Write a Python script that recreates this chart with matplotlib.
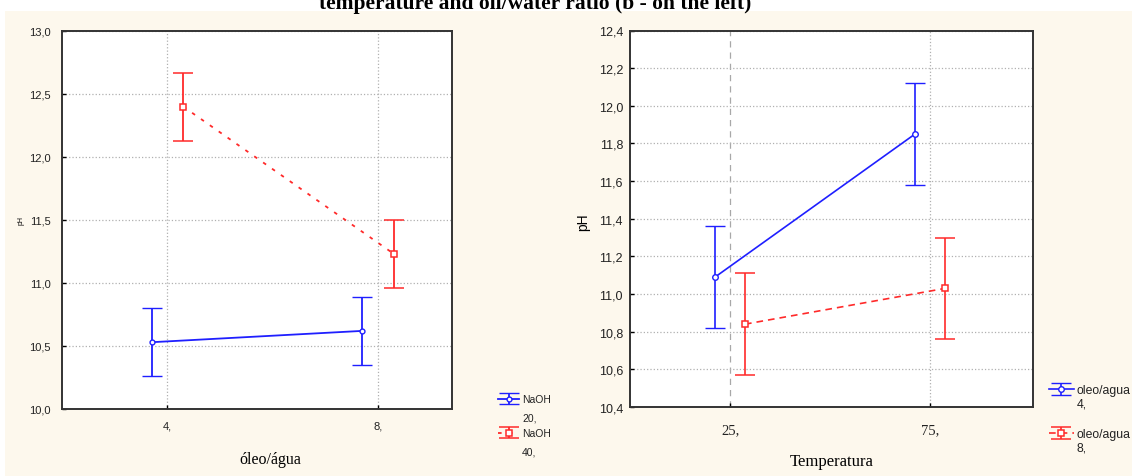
import numpy as np
import matplotlib
matplotlib.use("Agg")
import matplotlib.pyplot as plt
from matplotlib.patches import Rectangle

# left panel: pH vs oleo/agua, grouped by NaOH
oleo_ticks = ["4,", "8,"]
naoh_levels = ["20,", "40,"]
ph_naoh20 = [10.53, 10.62]
ph_naoh40 = [12.40, 11.23]
ci_naoh20 = [0.27, 0.27]
ci_naoh40 = [0.27, 0.27]
left_yticks = [10.0, 10.5, 11.0, 11.5, 12.0, 12.5, 13.0]

# right panel: pH vs Temperatura, grouped by oleo/agua
temp_ticks = ["25,", "75,"]
oleo_levels = ["4,", "8,"]
ph_oleo4 = [11.09, 11.85]
ph_oleo8 = [10.84, 11.03]
ci_oleo4 = [0.27, 0.27]
ci_oleo8 = [0.27, 0.27]
right_yticks = [10.4, 10.6, 10.8, 11.0, 11.2, 11.4, 11.6, 11.8, 12.0, 12.2, 12.4]

BLUE = "#1f1fff"
RED = "#ff2a2a"
CREAM = "#fdf8ed"
SANS = "Liberation Sans"
SERIF = "Liberation Serif"
DODGE = 0.075


def fmt(v):
    return f"{v:.1f}".replace(".", ",")


def add_second_lines(fig, leg, lines, dy, size):
    # Statistica puts the level value on a second line under the variable name
    fig.canvas.draw()
    inv = fig.transFigure.inverted()
    for t, sub in zip(leg.get_texts(), lines):
        bb = t.get_window_extent()
        fx, fy = inv.transform((bb.x0, (bb.y0 + bb.y1) / 2 - dy))
        fig.text(fx, fy, sub, ha="left", va="center", family=SANS, fontsize=size,
                 color="#222222")


def main():
    fig = plt.figure(figsize=(11.32, 4.77), dpi=100, facecolor=CREAM)
    # white strip at top where the caption is cut, and thin white left margin
    fig.patches.append(Rectangle((0, 1 - 12 / 477), 1, 12 / 477, transform=fig.transFigure,
                                 facecolor="white", edgecolor="none", zorder=0))
    fig.patches.append(Rectangle((0, 0), 5 / 1132, 1, transform=fig.transFigure,
                                 facecolor="white", edgecolor="none", zorder=0))
    fig.text(0.4726, 1 - 9.5 / 477, "temperature and oil/water ratio (b - on the left)",
             ha="center", va="baseline", fontsize=15.5, fontweight="bold", family=SERIF)

    ax1 = fig.add_axes([62 / 1132, 1 - 410 / 477, 390 / 1132, 378 / 477])
    ax2 = fig.add_axes([630 / 1132, 1 - 408 / 477, 403 / 1132, 376.5 / 477])

    x = np.arange(2)

    # ---- left panel ----
    ax1.errorbar(x - DODGE, ph_naoh20, yerr=ci_naoh20, color=BLUE, lw=1.3, capsize=7.5,
                 capthick=1.3, marker="o", ms=3.5, mfc="white", mec=BLUE, mew=1,
                 label="NaOH")
    ax1.errorbar(x + DODGE, ph_naoh40, yerr=ci_naoh40, color=RED, lw=1.3, capsize=7.5,
                 capthick=1.3, marker="s", ms=4.5, mfc="white", mec=RED, mew=1.1,
                 ls=(0, (2, 4)), label="NaOH")
    ax1.set_xlim(-0.5, 1.35)
    ax1.set_ylim(10.0, 13.0)
    ax1.set_xticks(x)
    ax1.set_xticklabels(oleo_ticks, fontsize=8, family=SANS)
    ax1.set_yticks(left_yticks)
    ax1.set_yticklabels([fmt(v) for v in left_yticks], fontsize=8, family=SANS)
    ax1.grid(True, ls=":", color="#b0b0b0", lw=0.9)
    ax1.set_axisbelow(True)
    ax1.set_xlabel("óleo/água", fontsize=11.5, family=SERIF)
    ax1.xaxis.set_label_coords(0.533, -0.111)
    ax1.set_ylabel("pH", fontsize=5, family=SANS)
    ax1.yaxis.set_label_coords(-0.095, 0.5)
    ax1.tick_params(axis="both", pad=8)
    leg1 = ax1.legend(loc="upper left", bbox_to_anchor=(493 / 1132, 1 - 390 / 477),
                      bbox_transform=fig.transFigure, frameon=False,
                      prop={"family": SANS, "size": 7.5}, handlelength=2.0,
                      handletextpad=0.3, labelspacing=2.3, borderpad=0)

    # ---- right panel ----
    ax2.errorbar(x - DODGE, ph_oleo4, yerr=ci_oleo4, color=BLUE, lw=1.2, capsize=7.5,
                 capthick=1.2, marker="o", ms=4, mfc="white", mec=BLUE, mew=1,
                 label="oleo/agua")
    ax2.errorbar(x + DODGE, ph_oleo8, yerr=ci_oleo8, color=RED, lw=1.2, capsize=7.5,
                 capthick=1.2, marker="s", ms=4.5, mfc="white", mec=RED, mew=1.1,
                 ls=(0, (4, 3)), label="oleo/agua")
    ax2.set_xlim(-0.5, 1.515)
    ax2.set_ylim(10.4, 12.4)
    ax2.set_xticks(x)
    ax2.set_xticklabels(temp_ticks, fontsize=10.5, family=SERIF)
    ax2.set_yticks(right_yticks)
    ax2.set_yticklabels([fmt(v) for v in right_yticks], fontsize=9, family=SANS)
    ax2.grid(True, axis="y", ls=":", color="#b0b0b0", lw=0.9)
    ax2.axvline(x[0], ls=(0, (5, 4)), color="#a8a8a8", lw=0.9, zorder=0)
    ax2.axvline(x[1], ls=":", color="#b0b0b0", lw=0.9, zorder=0)
    ax2.set_axisbelow(True)
    ax2.set_xlabel("Temperatura", fontsize=12, family=SERIF)
    ax2.xaxis.set_label_coords(0.5, -0.122)
    ax2.set_ylabel("pH", fontsize=10, family=SANS)
    ax2.yaxis.set_label_coords(-0.1, 0.494)
    ax2.tick_params(axis="x", pad=12)
    ax2.tick_params(axis="y", pad=5)
    leg2 = ax2.legend(loc="upper left", bbox_to_anchor=(1043 / 1132, 1 - 379 / 477),
                      bbox_transform=fig.transFigure, frameon=False,
                      prop={"family": SANS, "size": 8.8}, handlelength=2.0,
                      handletextpad=0.25, labelspacing=2.6, borderpad=0)

    for ax in (ax1, ax2):
        ax.set_facecolor("white")
        ax.tick_params(direction="in", length=3, width=1, colors="black",
                       labelcolor="#222222")
        for s in ax.spines.values():
            s.set_linewidth(1.4)
            s.set_color("#333333")
    for t in leg1.get_texts() + leg2.get_texts():
        t.set_color("#222222")

    add_second_lines(fig, leg1, naoh_levels, 18, 7.5)
    add_second_lines(fig, leg2, oleo_levels, 13.5, 8.8)

    fig.savefig("out.png", dpi=100, facecolor=CREAM)
    plt.close(fig)


if __name__ == "__main__":
    main()
